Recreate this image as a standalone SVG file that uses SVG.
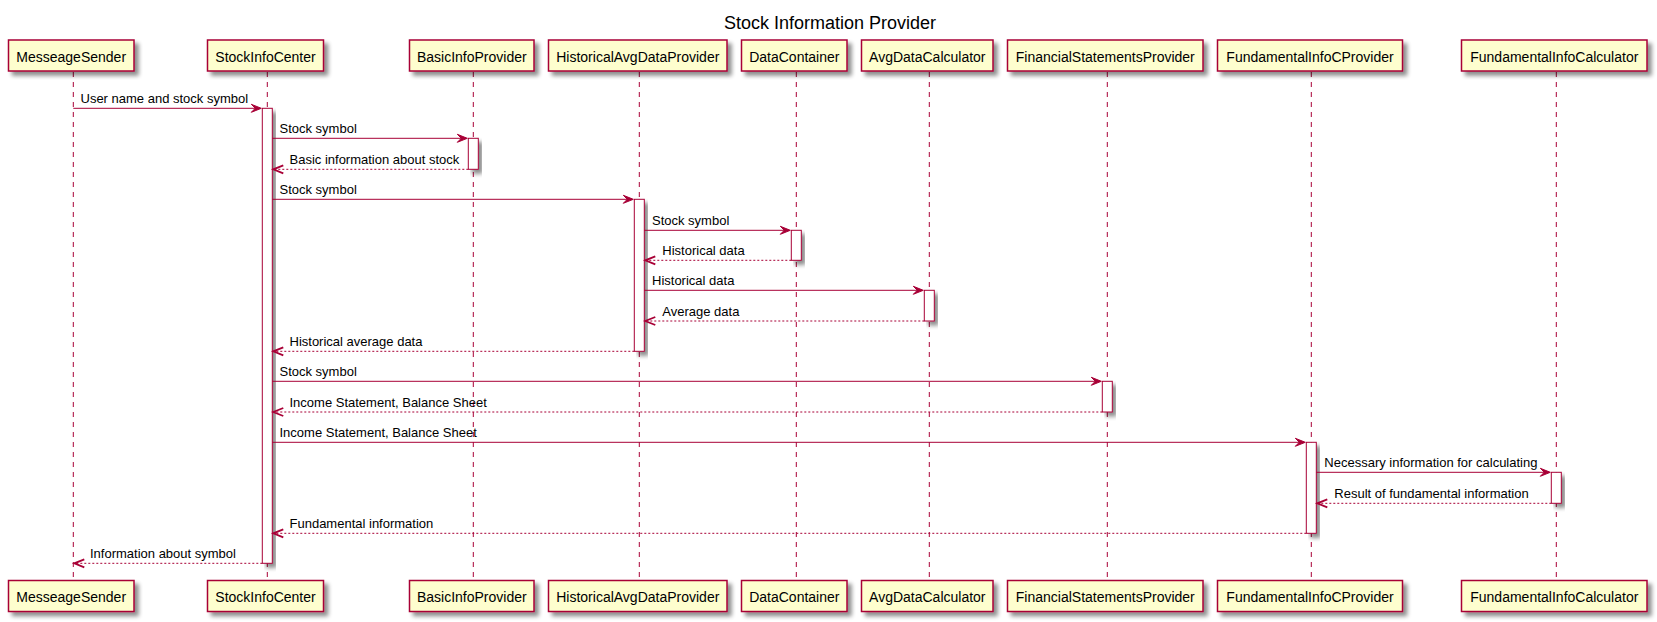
<svg xmlns="http://www.w3.org/2000/svg" width="1657" height="622" viewBox="0 0 1657 622">
<defs>
<filter id="sh" x="-20%" y="-20%" width="150%" height="150%">
<feGaussianBlur in="SourceAlpha" stdDeviation="2" result="b"/>
<feOffset in="b" dx="4" dy="4" result="o"/>
<feComponentTransfer in="o" result="g"><feFuncA type="linear" slope="0.45"/></feComponentTransfer>
<feMerge><feMergeNode in="g"/><feMergeNode in="SourceGraphic"/></feMerge>
</filter>
</defs>
<style>
.box{fill:#FEFECE;stroke:#A80036;stroke-width:1.5;filter:url(#sh)}
.life{stroke:#A80036;stroke-width:1;stroke-dasharray:5,5;fill:none}
.act{fill:#FFFFFF;stroke:#A80036;stroke-width:1;filter:url(#sh)}
.pt{font-family:"Liberation Sans",Arial,sans-serif;font-size:14px;fill:#000;text-anchor:middle}
.mt{font-family:"Liberation Sans",Arial,sans-serif;font-size:13px;fill:#000}
.msg{stroke:#A80036;stroke-width:1;fill:none}
.ret{stroke:#A80036;stroke-width:1;stroke-dasharray:2,2;fill:none}
.head{fill:#A80036;stroke:#A80036;stroke-width:1}
.rhead{fill:none;stroke:#A80036;stroke-width:1.8}
.title{font-family:"Liberation Sans",Arial,sans-serif;font-size:18px;fill:#000;text-anchor:middle}
</style>
<rect width="1657" height="622" fill="#FFFFFF"/>
<text class="title" x="830" y="29">Stock Information Provider</text>

<g id="MesseageSender">
<line class="life" x1="73.3" y1="72" x2="73.3" y2="580"/>
<rect class="box" x="8.5" y="40" width="125.5" height="31"/>
<text class="pt" x="71.2" y="61.5">MesseageSender</text>
<rect class="box" x="8.5" y="580.5" width="125.5" height="31"/>
<text class="pt" x="71.2" y="602">MesseageSender</text>
</g>
<g id="StockInfoCenter">
<line class="life" x1="267.3" y1="72" x2="267.3" y2="580"/>
<rect class="box" x="207.5" y="40" width="116" height="31"/>
<text class="pt" x="265.5" y="61.5">StockInfoCenter</text>
<rect class="box" x="207.5" y="580.5" width="116" height="31"/>
<text class="pt" x="265.5" y="602">StockInfoCenter</text>
<rect class="act" x="262.3" y="108.3" width="10" height="455"/>
</g>
<g id="BasicInfoProvider">
<line class="life" x1="473.3" y1="72" x2="473.3" y2="580"/>
<rect class="box" x="409.5" y="40" width="124.5" height="31"/>
<text class="pt" x="471.8" y="61.5">BasicInfoProvider</text>
<rect class="box" x="409.5" y="580.5" width="124.5" height="31"/>
<text class="pt" x="471.8" y="602">BasicInfoProvider</text>
<rect class="act" x="468.3" y="138.3" width="10" height="31"/>
</g>
<g id="HistoricalAvgDataProvider">
<line class="life" x1="639.3" y1="72" x2="639.3" y2="580"/>
<rect class="box" x="548.5" y="40" width="178.5" height="31"/>
<text class="pt" x="637.8" y="61.5">HistoricalAvgDataProvider</text>
<rect class="box" x="548.5" y="580.5" width="178.5" height="31"/>
<text class="pt" x="637.8" y="602">HistoricalAvgDataProvider</text>
<rect class="act" x="634.3" y="199.3" width="10" height="152"/>
</g>
<g id="DataContainer">
<line class="life" x1="796.3" y1="72" x2="796.3" y2="580"/>
<rect class="box" x="741.5" y="40" width="105.5" height="31"/>
<text class="pt" x="794.3" y="61.5">DataContainer</text>
<rect class="box" x="741.5" y="580.5" width="105.5" height="31"/>
<text class="pt" x="794.3" y="602">DataContainer</text>
<rect class="act" x="791.3" y="230.3" width="10" height="30"/>
</g>
<g id="AvgDataCalculator">
<line class="life" x1="929.3" y1="72" x2="929.3" y2="580"/>
<rect class="box" x="861.5" y="40" width="131.5" height="31"/>
<text class="pt" x="927.3" y="61.5">AvgDataCalculator</text>
<rect class="box" x="861.5" y="580.5" width="131.5" height="31"/>
<text class="pt" x="927.3" y="602">AvgDataCalculator</text>
<rect class="act" x="924.3" y="290.3" width="10" height="30.7"/>
</g>
<g id="FinancialStatementsProvider">
<line class="life" x1="1107.3" y1="72" x2="1107.3" y2="580"/>
<rect class="box" x="1007.5" y="40" width="195.5" height="31"/>
<text class="pt" x="1105.3" y="61.5">FinancialStatementsProvider</text>
<rect class="box" x="1007.5" y="580.5" width="195.5" height="31"/>
<text class="pt" x="1105.3" y="602">FinancialStatementsProvider</text>
<rect class="act" x="1102.3" y="381.3" width="10" height="30.7"/>
</g>
<g id="FundamentalInfoCProvider">
<line class="life" x1="1311.3" y1="72" x2="1311.3" y2="580"/>
<rect class="box" x="1217.5" y="40" width="185" height="31"/>
<text class="pt" x="1310" y="61.5">FundamentalInfoCProvider</text>
<rect class="box" x="1217.5" y="580.5" width="185" height="31"/>
<text class="pt" x="1310" y="602">FundamentalInfoCProvider</text>
<rect class="act" x="1306.3" y="442.3" width="10" height="91"/>
</g>
<g id="FundamentalInfoCalculator">
<line class="life" x1="1556.3" y1="72" x2="1556.3" y2="580"/>
<rect class="box" x="1461.5" y="40" width="185.5" height="31"/>
<text class="pt" x="1554.3" y="61.5">FundamentalInfoCalculator</text>
<rect class="box" x="1461.5" y="580.5" width="185.5" height="31"/>
<text class="pt" x="1554.3" y="602">FundamentalInfoCalculator</text>
<rect class="act" x="1551.3" y="472.3" width="10" height="31"/>
</g>

<g id="connectors">
<line class="msg" x1="73.3" y1="108.3" x2="260" y2="108.3"/>
<polygon class="head" points="251.3,104.3 261.3,108.3 251.3,112.3 255.3,108.3"/>
<text class="mt" x="80.5" y="103.3">User name and stock symbol</text>
<line class="msg" x1="272.3" y1="138.3" x2="466" y2="138.3"/>
<polygon class="head" points="457.3,134.3 467.3,138.3 457.3,142.3 461.3,138.3"/>
<text class="mt" x="279.5" y="133.3">Stock symbol</text>
<line class="ret" x1="468.3" y1="169.3" x2="274" y2="169.3"/>
<polyline class="rhead" points="283.3,165.3 273.3,169.3 283.3,173.3"/>
<text class="mt" x="289.5" y="164.3">Basic information about stock</text>
<line class="msg" x1="272.3" y1="199.3" x2="632" y2="199.3"/>
<polygon class="head" points="623.3,195.3 633.3,199.3 623.3,203.3 627.3,199.3"/>
<text class="mt" x="279.5" y="194.3">Stock symbol</text>
<line class="msg" x1="644.3" y1="230.3" x2="789" y2="230.3"/>
<polygon class="head" points="780.3,226.3 790.3,230.3 780.3,234.3 784.3,230.3"/>
<text class="mt" x="652" y="225.3">Stock symbol</text>
<line class="ret" x1="791.3" y1="260.3" x2="646" y2="260.3"/>
<polyline class="rhead" points="655.3,256.3 645.3,260.3 655.3,264.3"/>
<text class="mt" x="662.3" y="255.3">Historical data</text>
<line class="msg" x1="644.3" y1="290.3" x2="922" y2="290.3"/>
<polygon class="head" points="913.3,286.3 923.3,290.3 913.3,294.3 917.3,290.3"/>
<text class="mt" x="652" y="285.3">Historical data</text>
<line class="ret" x1="924.3" y1="321" x2="646" y2="321"/>
<polyline class="rhead" points="655.3,317 645.3,321 655.3,325"/>
<text class="mt" x="662.3" y="316">Average data</text>
<line class="ret" x1="634.3" y1="351.3" x2="274" y2="351.3"/>
<polyline class="rhead" points="283.3,347.3 273.3,351.3 283.3,355.3"/>
<text class="mt" x="289.5" y="346.3">Historical average data</text>
<line class="msg" x1="272.3" y1="381.3" x2="1100" y2="381.3"/>
<polygon class="head" points="1091.3,377.3 1101.3,381.3 1091.3,385.3 1095.3,381.3"/>
<text class="mt" x="279.5" y="376.3">Stock symbol</text>
<line class="ret" x1="1102.3" y1="412" x2="274" y2="412"/>
<polyline class="rhead" points="283.3,408 273.3,412 283.3,416"/>
<text class="mt" x="289.5" y="407">Income Statement, Balance Sheet</text>
<line class="msg" x1="272.3" y1="442.3" x2="1304" y2="442.3"/>
<polygon class="head" points="1295.3,438.3 1305.3,442.3 1295.3,446.3 1299.3,442.3"/>
<text class="mt" x="279.5" y="437.3">Income Statement, Balance Sheet</text>
<line class="msg" x1="1316.3" y1="472.3" x2="1549" y2="472.3"/>
<polygon class="head" points="1540.3,468.3 1550.3,472.3 1540.3,476.3 1544.3,472.3"/>
<text class="mt" x="1324.3" y="467.3">Necessary information for calculating</text>
<line class="ret" x1="1551.3" y1="503.3" x2="1318" y2="503.3"/>
<polyline class="rhead" points="1327.3,499.3 1317.3,503.3 1327.3,507.3"/>
<text class="mt" x="1334.3" y="498.3">Result of fundamental information</text>
<line class="ret" x1="1306.3" y1="533.3" x2="274" y2="533.3"/>
<polyline class="rhead" points="283.3,529.3 273.3,533.3 283.3,537.3"/>
<text class="mt" x="289.5" y="528.3">Fundamental information</text>
<line class="ret" x1="262.3" y1="563.3" x2="75" y2="563.3"/>
<polyline class="rhead" points="84.3,559.3 74.3,563.3 84.3,567.3"/>
<text class="mt" x="90" y="558.3">Information about symbol</text>
</g>
</svg>
